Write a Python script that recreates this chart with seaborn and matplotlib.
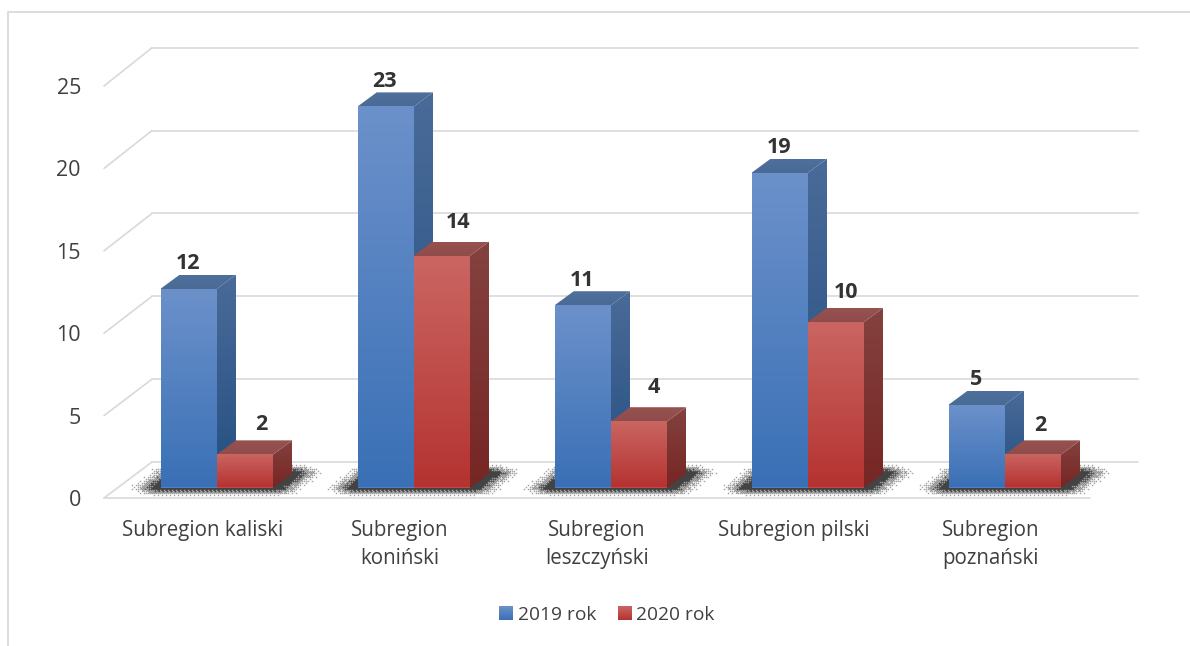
import numpy as np
import pandas as pd
import seaborn as sns
import matplotlib
matplotlib.use("Agg")
import matplotlib.pyplot as plt
from matplotlib.lines import Line2D
from matplotlib.patches import Polygon
from matplotlib.transforms import Affine2D, IdentityTransform

# values
regions = ["Subregion kaliski", "Subregion\nkoniński", "Subregion\nleszczyński",
           "Subregion pilski", "Subregion\npoznański"]
values_2019 = [12, 23, 11, 19, 5]
values_2020 = [2, 14, 4, 10, 2]
series_names = ["2019 rok", "2020 rok"]
y_ticks = [0, 5, 10, 15, 20, 25]

W, H = 1190, 646
GRID = "#d9d9d9"
TEXT = "#404040"
DEPTH = (19, 14)

# front, top and side colours as (top of face, bottom of face)
BLUE = {"front": ("#6c91ca", "#3a70b6"), "side": ("#4a6b99", "#244f80"), "top": ("#4f709c", "#4a6a96")}
RED = {"front": ("#ca6662", "#b53331"), "side": ("#84423f", "#772624"), "top": ("#975250", "#8f4c4a")}

sns.set_theme(style="white")
plt.rcParams["font.family"] = ["Open Sans", "DejaVu Sans"]

df = pd.DataFrame({
    "region": regions * 2,
    "value": values_2019 + values_2020,
    "series": [series_names[0]] * 5 + [series_names[1]] * 5,
})

fig = plt.figure(figsize=(W / 100, H / 100), dpi=100)
ax = fig.add_axes([118.5 / W, (H - 487.5) / H, 985 / W, 414.25 / H])
ax.patch.set_alpha(0)

sns.barplot(data=df, x="region", y="value", hue="series", ax=ax, width=0.5716, gap=0,
            palette=["#4f82c4", "#c24a46"], saturation=1, linewidth=0, zorder=3)
ax.set_xlim(-0.5, 4.5)
ax.set_ylim(0, 25)
ax.set_xlabel("")
ax.set_ylabel("")
ax.set_yticks(y_ticks)
sns.despine(ax=ax, left=True, bottom=True)
ax.tick_params(length=0, labelcolor=TEXT)
ax.tick_params(axis="x", pad=23.5, labelsize=14.8)
ax.tick_params(axis="y", pad=27, labelsize=15.5)
for lab in ax.get_xticklabels():
    lab.set_linespacing(1.42)
    lab.set_transform(lab.get_transform() + Affine2D().translate(-14, 0))
for lab, v in zip(ax.get_yticklabels(), y_ticks):
    lab.set_transform(lab.get_transform() + Affine2D().translate(0, -10.5 - 0.08 * v))


def grad_face(pts, colors, z):
    # polygon in pixels filled with a vertical gradient
    pts = np.array(pts)
    patch = Polygon(pts, closed=True, transform=IdentityTransform(), fc="none", ec="none")
    ax.add_patch(patch)
    c0, c1 = [np.array(matplotlib.colors.to_rgb(c)) for c in colors]
    t = np.linspace(0, 1, 64)[:, None, None]
    img = c0[None, None, :] * (1 - t) + c1[None, None, :] * t
    im = ax.imshow(img, extent=(pts[:, 0].min(), pts[:, 0].max(), pts[:, 1].min(), pts[:, 1].max()),
                   transform=IdentityTransform(), aspect="auto", origin="upper",
                   interpolation="bilinear", zorder=z)
    im.set_clip_path(patch)


def draw_bar(rect, cols, z):
    (x0, y0) = ax.transData.transform((rect.get_x(), 0))
    (x1, y1) = ax.transData.transform((rect.get_x() + rect.get_width(), rect.get_height()))
    dx, dy = DEPTH
    # side and top start a pixel under the front face so no seam shows
    grad_face([(x1 - 1, y0), (x1, y0), (x1 + dx, y0 + dy), (x1 + dx, y1 + dy), (x1, y1), (x1 - 1, y1)], cols["side"], z)
    grad_face([(x0, y1 - 1), (x1, y1 - 1), (x1, y1), (x1 + dx, y1 + dy), (x0 + dx, y1 + dy), (x0, y1)], cols["top"], z)
    grad_face([(x0, y0), (x1, y0), (x1, y1), (x0, y1)], cols["front"], z + 0.1)


blue_bars = ax.containers[0]
red_bars = ax.containers[1]
for i in range(5):
    draw_bar(blue_bars[i], BLUE, 3 + i)
    draw_bar(red_bars[i], RED, 3.5 + i)

# grid: wall line at the back plus the slanted floor part towards the front
for v in y_ticks:
    xl, yv = ax.transData.transform((-0.5, v))
    xr = ax.transData.transform((4.5, v))[0]
    front_down = 10.5 + 0.09 * v
    ax.add_line(Line2D([xl + 33.5, xl - 14.5], [yv + 25.5, yv - front_down],
                       transform=IdentityTransform(), color=GRID, lw=1.2, clip_on=False, zorder=1))
    ax.add_line(Line2D([xl + 33.5, xr + 34.5], [yv + 25.5, yv + 25.5],
                       transform=IdentityTransform(), color=GRID, lw=1.2, clip_on=False, zorder=1))
x_l = ax.transData.transform((-0.5, 0))[0]
x_r = ax.transData.transform((4.5, 0))[0]
y_f = ax.transData.transform((0, 0))[1] - 10.5
ax.add_line(Line2D([x_l - 14.5, x_r - 13.5], [y_f, y_f], transform=IdentityTransform(),
                   color=GRID, lw=1.2, clip_on=False, zorder=1))

# stippled floor shadow under each pair of bars
yy, xx = np.mgrid[0:H, 0:W]
yy = yy + 0.5
xx = xx + 0.5
density = np.zeros((H, W))
for i in range(5):
    left = ax.transData.transform((blue_bars[i].get_x(), 0))
    right = ax.transData.transform((red_bars[i].get_x() + red_bars[i].get_width(), 0))
    base = left[1]
    up = np.clip((yy - base) / DEPTH[1], 0, 1)
    ex = np.maximum.reduce([left[0] + up * DEPTH[0] - xx, xx - right[0] - up * DEPTH[0], np.zeros_like(xx)])
    ey = np.maximum.reduce([yy - (base + DEPTH[1]), base - yy, np.zeros_like(yy)])
    d = np.sqrt((ex / 34) ** 2 + (ey / 10) ** 2)
    density = np.maximum(density, np.clip(1 - d, 0, 1))
bayer = np.array([[0, 8, 2, 10], [12, 4, 14, 6], [3, 11, 1, 9], [15, 7, 13, 5]]) / 16 + 1 / 32
thr = np.tile(bayer, (H // 4 + 1, W // 4 + 1))[:H, :W]
dots = (density ** 1.6 * 1.6 > thr) * (density > 0) * 1.0
# soften the stipple a little, the reference is smeared by compression
soft = np.zeros_like(dots)
for sy, wy in [(-1, 0.15), (0, 0.7), (1, 0.15)]:
    for sx, wx in [(-1, 0.15), (0, 0.7), (1, 0.15)]:
        soft += np.roll(np.roll(dots, sy, axis=0), sx, axis=1) * wy * wx
shadow = np.zeros((H, W, 4))
shadow[..., :3] = 0.18
shadow[..., 3] = soft * 0.9
ax.imshow(shadow, extent=(0, W, 0, H), transform=IdentityTransform(), origin="lower", aspect="auto",
          interpolation="nearest", zorder=2, clip_on=False)

# value labels sit above the top face, red ones nudged to the right
red_dx = [16, 16, 15, 10, 7]
red_dy = [30, 33, 34, 29, 29]
for i in range(5):
    b = blue_bars[i]
    ax.annotate(str(values_2019[i]), (b.get_x() + b.get_width() / 2, b.get_height()), xytext=(-1, 25),
                textcoords="offset pixels", ha="center", va="center", fontsize=15.5,
                fontweight="bold", color="#333333", zorder=20, annotation_clip=False)
    r = red_bars[i]
    ax.annotate(str(values_2020[i]), (r.get_x() + r.get_width() / 2, r.get_height()),
                xytext=(red_dx[i], red_dy[i]), textcoords="offset pixels", ha="center", va="center",
                fontsize=15.5, fontweight="bold", color="#333333", zorder=20, annotation_clip=False)

sns.move_legend(ax, "center", bbox_to_anchor=(607 / W, (H - 615) / H), bbox_transform=fig.transFigure,
                ncol=2, title=None, frameon=False, fontsize=13.8, labelcolor=TEXT,
                handlelength=0.68, handleheight=0.68, handletextpad=0.3, columnspacing=1.1)

# outer frame, cut by the page on the right and at the bottom
fig.add_artist(Line2D([8, 8, W + 5], [-5, H - 12, H - 12], transform=IdentityTransform(), color=GRID, lw=1.3))

# gradient swatches on the legend handles
fig.canvas.draw()
for p, cols in zip(ax.get_legend().get_patches(), [BLUE, RED]):
    e = p.get_window_extent()
    c0, c1 = [np.array(matplotlib.colors.to_rgb(c)) for c in cols["front"]]
    t = np.linspace(0, 1, 32)[:, None, None]
    ax.imshow(c0[None, None, :] * (1 - t) + c1[None, None, :] * t, extent=(e.x0, e.x1, e.y0, e.y1),
              transform=IdentityTransform(), origin="upper", aspect="auto", zorder=30, clip_on=False)

fig.savefig("out.png", dpi=100, facecolor="white")
